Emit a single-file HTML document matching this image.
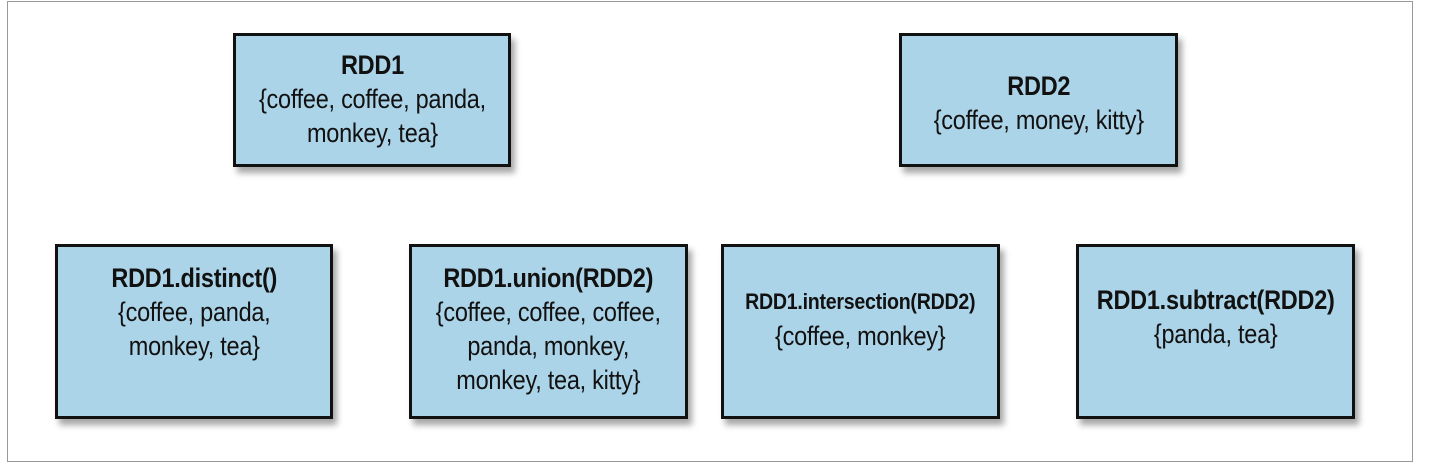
<!DOCTYPE html>
<html><head><meta charset="utf-8"><style>
body{margin:0;background:#fff;width:1430px;height:466px;position:relative;overflow:hidden;font-family:"Liberation Sans",sans-serif;}
.frame{position:absolute;left:7px;top:1px;width:1406px;height:461px;border:1px solid #999;box-sizing:border-box;}
.b{position:absolute;background:#acd4e8;border:3px solid #111;box-sizing:border-box;box-shadow:4px 6px 6px rgba(0,0,0,0.35);text-align:center;color:#111;font-size:27px;line-height:34px;white-space:nowrap;}
.b .t{display:inline-block;transform:scaleX(0.87);transform-origin:center top;letter-spacing:-0.3px;}
.b b{font-weight:bold;}
</style></head><body>
<div class="frame"></div>
<div class="b" style="left:233px;top:33px;width:278px;height:134px;padding-top:12px"><div class="t"><b>RDD1</b><br>{coffee, coffee, panda,<br>monkey, tea}</div></div>
<div class="b" style="left:899px;top:33px;width:279px;height:134px;padding-top:33px"><div class="t"><b>RDD2</b><br>{coffee, money, kitty}</div></div>
<div class="b" style="left:55px;top:244px;width:278px;height:175px;padding-top:14px"><div class="t"><b>RDD1.distinct()</b><br>{coffee, panda,<br>monkey, tea}</div></div>
<div class="b" style="left:409px;top:244px;width:279px;height:175px;padding-top:14px"><div class="t"><b>RDD1.union(RDD2)</b><br>{coffee, coffee, coffee,<br>panda, monkey,<br>monkey, tea, kitty}</div></div>
<div class="b" style="left:721px;top:244px;width:279px;height:175px;padding-top:36px"><div class="t"><b style="font-size:22.5px">RDD1.intersection(RDD2)</b><br>{coffee, monkey}</div></div>
<div class="b" style="left:1076px;top:244px;width:279px;height:175px;padding-top:36px"><div class="t"><b>RDD1.subtract(RDD2)</b><br>{panda, tea}</div></div>
</body></html>
